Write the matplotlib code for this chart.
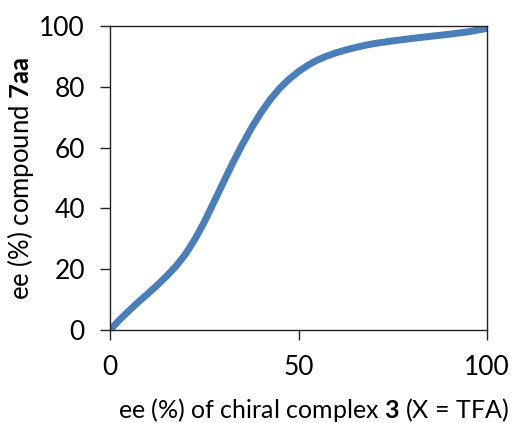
import matplotlib
matplotlib.use("Agg")
import matplotlib.pyplot as plt

# ee of chiral complex 3 vs ee of compound 7aa
complex_ee = [0, 2.5, 5, 7.5, 10, 12.5, 15, 17.5, 20, 22.5, 25, 27.5, 30,
              32.5, 35, 37.5, 40, 42.5, 45, 47.5, 50, 52.5, 55, 57.5, 60,
              62.5, 65, 67.5, 70, 75, 80, 85, 90, 95, 100]
product_ee = [0, 3.3, 6.3, 9.2, 11.9, 14.7, 17.7, 21.0, 24.9, 29.8, 35.5,
              41.9, 48.4, 54.8, 60.8, 66.4, 71.4, 75.8, 79.5, 82.5, 85.0,
              87.1, 88.8, 90.1, 91.2, 92.1, 92.9, 93.6, 94.2, 95.1, 95.9,
              96.6, 97.3, 98.1, 99.2]

x_ticks = [0, 50, 100]
y_ticks = [0, 20, 40, 60, 80, 100]

plt.rcParams['font.family'] = ['Lato', 'DejaVu Sans']
plt.rcParams['mathtext.fontset'] = 'custom'
plt.rcParams['mathtext.bf'] = 'Lato:bold'
plt.rcParams['mathtext.rm'] = 'Lato'

fig = plt.figure(figsize=(5.26, 4.23), dpi=100)
ax = fig.add_axes([110 / 526, 1 - 330 / 423, 377 / 526, 304 / 423])

ax.plot(complex_ee, product_ee, color='#4a7ebb', lw=5,
        solid_capstyle='round', solid_joinstyle='round')

ax.set_xlim(0, 100)
ax.set_ylim(0, 100)
ax.set_xticks(x_ticks)
ax.set_yticks(y_ticks)
ax.tick_params(direction='out', length=7, width=1, labelsize=19,
               pad=11, color='#222222')
for s in ax.spines.values():
    s.set_linewidth(1)
    s.set_color('#222222')

fig.text(313 / 526, 1 - 410 / 423,
         r'ee (%) of chiral complex $\mathbf{3}$ (X = TFA)',
         ha='center', va='center', fontsize=18)
fig.text(21 / 526, 1 - 178 / 423,
         r'ee (%) compound $\mathbf{7aa}$',
         ha='center', va='center', rotation=90, fontsize=18.5)

fig.savefig('out.png', dpi=100)
